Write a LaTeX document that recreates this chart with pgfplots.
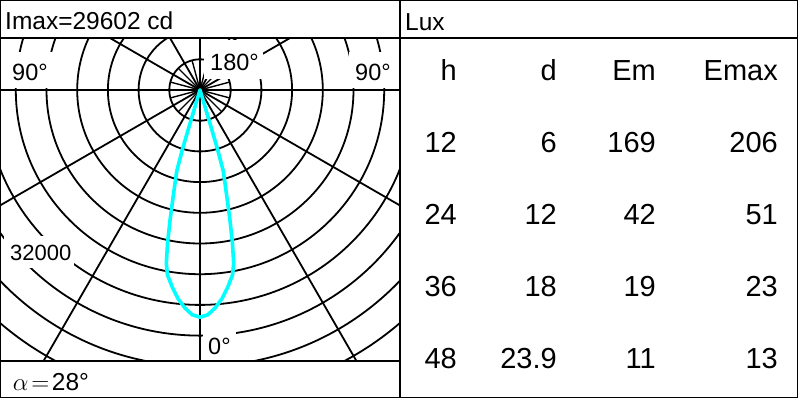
\documentclass[border=0pt]{standalone}
\usepackage{pgfplots}
\pgfplotsset{compat=1.18}
\usepackage{fontspec}
\setmainfont{Liberation Sans}
\definecolor{beam}{RGB}{0,255,255}
\begin{document}
\begin{tikzpicture}
\useasboundingbox (0pt,0pt) rectangle (800pt,-400pt);
% axis units: 1000 cd
\begin{axis}[at={(0pt,-361pt)}, anchor=south west, scale only axis,
  width=400pt, height=323pt,
  xmin=-26.059, xmax=26.059, ymin=-35.309, ymax=6.775,
  hide axis, clip=true]
  % grid circles every 4000 cd
  \pgfplotsinvokeforeach{1,...,11}{
    \draw[line width=1.8pt] (axis cs:0,0) circle[radius=4*#1];
  }
  % radial lines every 30 deg
  \pgfplotsinvokeforeach{0,30,60,90,120,150}{
    \draw[line width=1.8pt] (axis cs:{-60*cos(#1)},{-60*sin(#1)}) -- (axis cs:{60*cos(#1)},{60*sin(#1)});
  }
  % short spokes inside the first circle
  \pgfplotsinvokeforeach{15,45,75,105,135,165,195,225,255,285,315,345}{
    \draw[line width=1.4pt] (axis cs:0,0) -- (axis cs:{4*cos(#1)},{4*sin(#1)});
  }
  \addplot[beam, line width=3.6pt, line join=round, line cap=round]
    table[x expr={\thisrow{I}*sin(\thisrow{g})/1000}, y expr={-\thisrow{I}*cos(\thisrow{g})/1000}] {
    g      I
    -16.8  0
    -16.7  2500
    -16.6  5000
    -16.5  8000
    -16.0  11000
    -15.0  12600
    -14.0  14600
    -13.0  17300
    -12.0  20300
    -11.0  23000
    -10.0  24450
    -8.0   25950
    -6.0   27350
    -4.0   28450
    -2.0   29300
    0.0    29602
    2.0    29300
    4.0    28450
    6.0    27350
    8.0    25950
    10.0   24450
    11.0   23000
    12.0   20300
    13.0   17300
    14.0   14600
    15.0   12600
    16.0   11000
    16.5   8000
    16.6   5000
    16.7   2500
    16.8   0
  };
\end{axis}
\begin{scope}[x=1pt,y=-1pt]
  % label boxes
  \fill[white] (6,52) rectangle (53,88);
  \fill[white] (349,52) rectangle (396,88);
  \fill[white] (204,40) rectangle (263,79);
  \fill[white] (203,326) rectangle (236,360);
  \fill[white] (4,236) rectangle (74,268);
  \node[anchor=base west, inner sep=0pt] at (12,80) {\fontsize{23.5}{28}\selectfont 90°};
  \node[anchor=base west, inner sep=0pt] at (355,80) {\fontsize{23.5}{28}\selectfont 90°};
  \node[anchor=base west, inner sep=0pt] at (210,70) {\fontsize{23.5}{28}\selectfont 180°};
  \node[anchor=base west, inner sep=0pt] at (208,354) {\fontsize{23.5}{28}\selectfont 0°};
  \node[anchor=base west, inner sep=0pt] at (10,260.7) {\fontsize{22}{26}\selectfont 32000};
  % frame
  \draw[line width=1pt] (0.5,0.5) rectangle (797.5,397.5);
  \draw[line width=2pt] (0,38) -- (797.5,38);
  \draw[line width=2pt] (400,0) -- (400,397.5);
  \draw[line width=2pt] (0,361) -- (400,361);
  % header texts
  \node[anchor=base west, inner sep=0pt] at (5,29.3) {\fontsize{24.5}{28}\selectfont Imax=29602 cd};
  \node[anchor=base west, inner sep=0pt] at (405,30) {\fontsize{24.5}{28}\selectfont Lux};
  \node[anchor=base west, inner sep=0pt] at (12.7,390) {\fontsize{24.5}{28}\selectfont$\alpha\mkern2mu{=}\mkern2mu$28°};
  % table
  \def\tf{\fontsize{29}{32}\selectfont}
  \foreach \y/\a/\b/\c/\d in {80/h/d/Em/Emax, 152.3/12/6/169/206, 224/24/12/42/51, 296/36/18/19/23, 368.3/48/23.9/11/13}{
    \node[anchor=base east, inner sep=0pt] at (457,\y) {\tf\a};
    \node[anchor=base east, inner sep=0pt] at (557,\y) {\tf\b};
    \node[anchor=base east, inner sep=0pt] at (656,\y) {\tf\c};
    \node[anchor=base east, inner sep=0pt] at (778,\y) {\tf\d};
  }
\end{scope}
\end{tikzpicture}
\end{document}
